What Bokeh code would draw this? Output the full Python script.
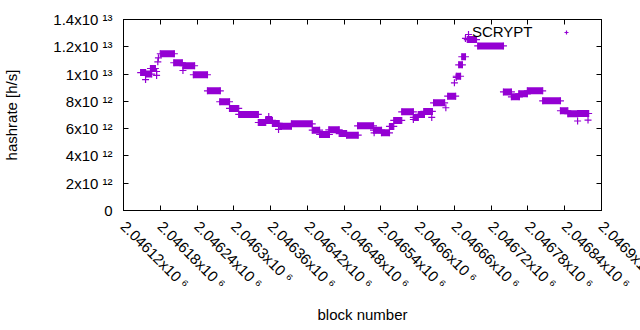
import math
from bokeh.plotting import figure
from bokeh.layouts import column
from bokeh.models import (Range1d, FixedTicker, LinearAxis, Legend, LegendItem, Label,
                          CustomLabelingPolicy, Spacer)
from bokeh.core.properties import value
from bokeh.embed import file_html
from bokeh.resources import INLINE

# Runs of consecutive blocks sharing one hashrate value (block start, block end, hashrate in h/s)
run_start = [2046148, 2046156, 2046164, 2046180, 2046202, 2046217, 2046234, 2046257, 2046277,
             2046293, 2046308, 2046340, 2046352, 2046363, 2046375, 2046394, 2046428, 2046440,
             2046455, 2046472, 2046484, 2046502, 2046528, 2046541, 2046554, 2046561, 2046574,
             2046593, 2046601, 2046610, 2046626, 2046649, 2046663, 2046667, 2046672, 2046681,
             2046698, 2046740, 2046753, 2046765, 2046779, 2046804, 2046833, 2046845, 2046861]
run_end = [2046156, 2046166, 2046172, 2046203, 2046216, 2046236, 2046257, 2046278, 2046293,
           2046308, 2046340, 2046352, 2046363, 2046374, 2046394, 2046428, 2046440, 2046456,
           2046472, 2046484, 2046503, 2046528, 2046541, 2046554, 2046561, 2046574, 2046593,
           2046601, 2046611, 2046624, 2046644, 2046662, 2046670, 2046673, 2046678, 2046696,
           2046740, 2046753, 2046766, 2046779, 2046804, 2046833, 2046845, 2046861, 2046879]
run_rate = [10.11e12, 10.00e12, 10.41e12, 11.49e12, 10.83e12, 10.61e12, 9.95e12, 8.77e12, 7.97e12,
            7.48e12, 7.04e12, 6.45e12, 6.60e12, 6.38e12, 6.18e12, 6.35e12, 5.89e12, 5.57e12,
            5.91e12, 5.64e12, 5.52e12, 6.21e12, 5.89e12, 5.69e12, 6.16e12, 6.60e12, 7.23e12,
            6.82e12, 7.04e12, 7.26e12, 7.89e12, 8.38e12, 9.84e12, 10.68e12, 11.27e12, 12.53e12,
            12.06e12, 8.69e12, 8.33e12, 8.55e12, 8.77e12, 8.04e12, 7.31e12, 7.09e12, 7.11e12]

# Isolated blocks
pt_block = [2046156, 2046174, 2046174, 2046176, 2046177, 2046217, 2046357, 2046373, 2046529,
            2046593, 2046623, 2046646, 2046660, 2046663, 2046678, 2046683, 2046861, 2046878]
pt_rate = [9.60e12, 10.19e12, 9.90e12, 10.90e12, 11.19e12, 10.26e12, 6.89e12, 5.94e12, 5.69e12,
           6.67e12, 6.82e12, 7.53e12, 9.36e12, 9.75e12, 12.61e12, 12.90e12, 6.56e12, 6.63e12]

series_name = "SCRYPT"

x_ticks = [2046120, 2046180, 2046240, 2046300, 2046360, 2046420, 2046480,
           2046540, 2046600, 2046660, 2046720, 2046780, 2046840, 2046900]
x_tick_labels = ["2.04612x10 \u2076", "2.04618x10 \u2076", "2.04624x10 \u2076", "2.0463x10 \u2076",
                 "2.04636x10 \u2076", "2.04642x10 \u2076", "2.04648x10 \u2076", "2.04654x10 \u2076",
                 "2.0466x10 \u2076", "2.04666x10 \u2076", "2.04672x10 \u2076", "2.04678x10 \u2076",
                 "2.04684x10 \u2076", "2.0469x10 \u2076"]
y_ticks = [0, 2e12, 4e12, 6e12, 8e12, 1e13, 1.2e13, 1.4e13]
y_tick_labels = ["0", "2x10 \u00b9\u00b2", "4x10 \u00b9\u00b2", "6x10 \u00b9\u00b2", "8x10 \u00b9\u00b2",
                 "1x10 \u00b9\u00b3", "1.2x10 \u00b9\u00b3", "1.4x10 \u00b9\u00b3"]

PURPLE = "#9400d3"
FONT = "Liberation Sans"
FS = "15px"

p = figure(frame_width=478, frame_height=191, output_backend="svg", toolbar_location=None,
           x_range=Range1d(x_ticks[0], x_ticks[-1]), y_range=Range1d(y_ticks[0], y_ticks[-1]),
           min_border_left=0, min_border_right=0, min_border_top=0, min_border_bottom=0,
           x_axis_label="block number", y_axis_label="hashrate [h/s]")
p.grid.visible = False
p.outline_line_color = "black"
p.outline_line_alpha = 1.0
p.background_fill_color = "white"
p.border_fill_color = "white"

r_runs = p.segment(x0=run_start, y0=run_rate, x1=run_end, y1=run_rate,
                   line_width=7, line_color=PURPLE, line_cap="butt")
r_pts = p.scatter(x=run_start + run_end + pt_block, y=run_rate + run_rate + pt_rate,
                  marker="cross", size=7, line_color=PURPLE, line_width=1.2)

def style_axis(ax, ticks, labels):
    ax.ticker = FixedTicker(ticks=ticks)
    ax.major_label_overrides = {t: l for t, l in zip(ticks, labels)}
    ax.major_tick_in = 5
    ax.major_tick_out = 0
    ax.minor_tick_line_color = None
    ax.axis_line_color = "black"
    ax.major_tick_line_color = "black"
    ax.major_label_text_font = FONT
    ax.major_label_text_font_size = FS
    ax.major_label_text_color = "black"
    ax.axis_label_text_font = FONT
    ax.axis_label_text_font_size = FS
    ax.axis_label_text_font_style = "normal"
    ax.axis_label_text_color = "black"

style_axis(p.xaxis[0], x_ticks, x_tick_labels)
style_axis(p.yaxis[0], y_ticks, y_tick_labels)
p.xaxis.major_label_orientation = -math.pi / 4
p.xaxis.major_label_standoff = 13
p.xaxis.axis_label_standoff = 5
p.yaxis.major_label_standoff = 11
p.yaxis.axis_label_standoff = 30

no_labels = CustomLabelingPolicy(code="for (const i of indices) indices.unset(i); return indices")
top_ax = LinearAxis(ticker=FixedTicker(ticks=x_ticks), major_tick_in=5, major_tick_out=0,
                    minor_tick_line_color=None, axis_line_color="black",
                    major_label_policy=no_labels, major_label_standoff=0)
p.add_layout(top_ax, "above")
right_ax = LinearAxis(ticker=FixedTicker(ticks=y_ticks), major_tick_in=5, major_tick_out=0,
                      minor_tick_line_color=None, axis_line_color="black",
                      major_label_policy=no_labels, major_label_standoff=0,
                      axis_label=" ", axis_label_standoff=8,
                      axis_label_text_font_size=FS)
p.add_layout(right_ax, "right")

legend = Legend(items=[LegendItem(label=value(" "), renderers=[r_pts])],
                location=(438, 168), padding=0, margin=0, spacing=0,
                glyph_width=10, glyph_height=20, label_height=20, label_standoff=0,
                background_fill_alpha=0, border_line_alpha=0,
                label_text_font=FONT, label_text_font_size=FS)
p.add_layout(legend)
p.add_layout(Label(x=409, y=179, x_units="screen", y_units="screen", text=series_name,
                   text_align="right", text_baseline="middle", text_font=FONT,
                   text_font_size=FS, text_color="black"))

layout = column(Spacer(height=8), p, spacing=0)
open("out.html", "w").write(file_html(layout, INLINE))
